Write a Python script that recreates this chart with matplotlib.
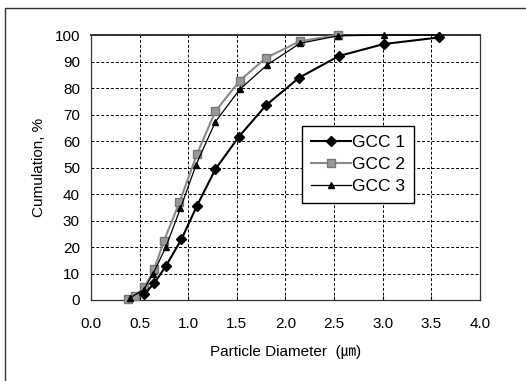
import matplotlib
matplotlib.use("Agg")
import matplotlib.pyplot as plt
from matplotlib.patches import Rectangle

plt.rcParams['font.family'] = ['Liberation Sans', 'DejaVu Sans', 'Noto Sans CJK KR']

# Datos
gcc1_x = [0.55, 0.65, 0.77, 0.93, 1.09, 1.28, 1.52, 1.80, 2.14, 2.55, 3.01, 3.58]
gcc1_y = [2.3, 6.3, 12.8, 22.9, 35.6, 49.4, 61.6, 73.5, 83.9, 92.1, 96.6, 99.1]

gcc2_x = [0.38, 0.45, 0.55, 0.65, 0.75, 0.91, 1.09, 1.28, 1.53, 1.80, 2.15, 2.54]
gcc2_y = [0.4, 1.5, 4.8, 11.6, 22.3, 36.9, 55.1, 71.3, 82.8, 91.4, 97.7, 100]

gcc3_x = [0.40, 0.54, 0.64, 0.77, 0.92, 1.08, 1.28, 1.53, 1.81, 2.15, 2.54, 3.01, 3.58]
gcc3_y = [0.8, 3.8, 10.0, 20.0, 34.6, 51.0, 67.3, 79.5, 88.7, 96.9, 99.7, 100, 100]

x_ticks = [0.0, 0.5, 1.0, 1.5, 2.0, 2.5, 3.0, 3.5, 4.0]
y_ticks = list(range(0, 101, 10))

fig = plt.figure(figsize=(5.26, 3.81), dpi=100)
ax = fig.add_axes([0.173, 0.2126, 0.7395, 0.6954])

ax.plot(gcc1_x, gcc1_y, color='black', lw=1.5, marker='D', ms=5, label='GCC 1',
        zorder=4, clip_on=False)
ax.plot(gcc2_x, gcc2_y, color='#8a8a8a', lw=1.5, marker='s', ms=6, mec='#777777',
        mfc='#999999', label='GCC 2', zorder=3, clip_on=False)
ax.plot(gcc3_x, gcc3_y, color='black', lw=0.9, marker='^', ms=4, label='GCC 3',
        zorder=5, clip_on=False)

ax.set_xlim(0, 4)
ax.set_ylim(0, 100)
ax.set_xticks(x_ticks)
ax.set_xticklabels([f"{v:.1f}" for v in x_ticks])
ax.set_yticks(y_ticks)
ax.grid(True, color='black', ls=(0, (3, 2)), lw=0.7)
ax.tick_params(axis='x', direction='in', length=3, labelsize=11, pad=12)
ax.tick_params(axis='y', length=0, labelsize=11, pad=8)
for s in ax.spines.values():
    s.set_linewidth(0.9)
    s.set_color('#333333')
ax.spines['top'].set_linewidth(1.4)

ax.set_xlabel('Particle Diameter  (㎛)', fontsize=11, labelpad=10)
ax.set_ylabel('Cumulation, %', fontsize=11, labelpad=6)

leg = ax.legend(loc='upper left', bbox_to_anchor=(0.52, 0.69), fontsize=12.5,
                fancybox=False, framealpha=1, edgecolor='black',
                handlelength=2.3, borderpad=0.5, labelspacing=0.4, handletextpad=0.1)
leg.get_frame().set_linewidth(1.0)

# Marco exterior de la figura
fig.patches.append(Rectangle((0.01, -0.05), 1.1, 1.03, transform=fig.transFigure,
                             fill=False, ec='#333333', lw=1.0))

fig.savefig('out.png', dpi=100)
